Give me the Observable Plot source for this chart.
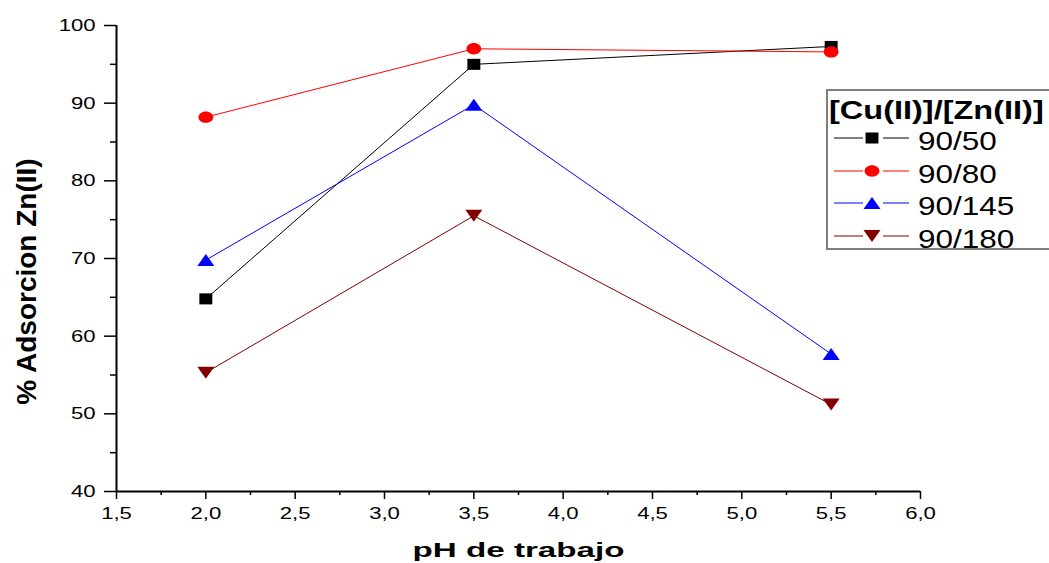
<!DOCTYPE html>
<html>
<head>
<meta charset="utf-8">
<script src="https://cdn.jsdelivr.net/npm/d3@7"></script>
<script src="https://cdn.jsdelivr.net/npm/@observablehq/plot@0.6"></script>
<style>
  html, body { margin: 0; padding: 0; background: #fff; overflow: hidden; }
  #wrap { position: relative; width: 1049px; height: 563px; font-family: "Liberation Sans", Arial, sans-serif; }
  #legend { position: absolute; left: 826px; top: 89px; overflow: visible; }
</style>
</head>
<body>
<div id="wrap"></div>
<script>
// ---- data ----
const pH = [2.0, 3.5, 5.5];
const series = ["90/50", "90/80", "90/145", "90/180"];
const s50  = [64.8, 95.0, 97.3];
const s80  = [88.2, 97.0, 96.6];
const s145 = [69.8, 89.8, 57.7];
const s180 = [55.3, 75.5, 51.2];
const seriesValues = [s50, s80, s145, s180];
const colors = ["#000000", "#ff0000", "#0000ff", "#800000"];
const xTicks = [1.5, 2.0, 2.5, 3.0, 3.5, 4.0, 4.5, 5.0, 5.5, 6.0];
const xMinor = [1.75, 2.25, 2.75, 3.25, 3.75, 4.25, 4.75, 5.25, 5.75];
const yTicks = [40, 50, 60, 70, 80, 90, 100];
const yMinor = [45, 55, 65, 75, 85, 95];
const xLabel = "pH de trabajo";
const yLabel = "% Adsorcion Zn(II)";
const legendTitle = "[Cu(II)]/[Zn(II)]";

// ---- symbols (horizontally stretched like the original) ----
const rOf = size => Math.sqrt(size / Math.PI);
const symSquare = { draw(ctx, size) { const r = rOf(size); const w = r * 1.08, h = r * 0.92; ctx.rect(-w, -h, 2 * w, 2 * h); } };
const symEllipse = { draw(ctx, size) { const r = rOf(size); const rx = r * 1.23, ry = r * 0.95, k = 0.5523;
  ctx.moveTo(rx, 0);
  ctx.bezierCurveTo(rx, ry * k, rx * k, ry, 0, ry);
  ctx.bezierCurveTo(-rx * k, ry, -rx, ry * k, -rx, 0);
  ctx.bezierCurveTo(-rx, -ry * k, -rx * k, -ry, 0, -ry);
  ctx.bezierCurveTo(rx * k, -ry, rx, -ry * k, rx, 0);
  ctx.closePath(); } };
const symTriUp = { draw(ctx, size) { const r = rOf(size); const w = r * 1.42, h = r * 1.0;
  ctx.moveTo(0, -h); ctx.lineTo(w, h); ctx.lineTo(-w, h); ctx.closePath(); } };
const symTriDown = { draw(ctx, size) { const r = rOf(size); const w = r * 1.42, h = r * 1.0;
  ctx.moveTo(0, h); ctx.lineTo(w, -h); ctx.lineTo(-w, -h); ctx.closePath(); } };
const symbols = [symSquare, symEllipse, symTriUp, symTriDown];

const table = series.flatMap((name, i) => pH.map((x, j) => ({ series: name, pH: x, value: seriesValues[i][j] })));

const marks = [];
series.forEach((name, i) => {
  marks.push(Plot.line(table.filter(d => d.series === name), { x: "pH", y: "value", stroke: colors[i], strokeWidth: 1 }));
});
series.forEach((name, i) => {
  marks.push(Plot.dot(table.filter(d => d.series === name), { x: "pH", y: "value", r: 6, symbol: symbols[i], fill: colors[i], stroke: "none" }));
});

const fmt = d => d.toFixed(1).replace(".", ",");

const chart = Plot.plot({
  width: 1049,
  height: 563,
  marginLeft: 116,
  marginRight: 129,
  marginTop: 25,
  marginBottom: 72,
  style: { fontFamily: "Liberation Sans, Arial, sans-serif", background: "#fff", color: "#000" },
  x: { domain: [1.5, 6.0], axis: null },
  y: { domain: [40, 100], axis: null },
  marks: [
    Plot.axisX(xTicks, { tickSize: 8, tickPadding: 7, fontSize: 17, strokeWidth: 1.5, tickFormat: fmt, label: null }),
    Plot.axisX(xMinor, { tickSize: 4, fontSize: 1, strokeWidth: 1.5, tickFormat: () => "", label: null }),
    Plot.axisY(yTicks, { tickSize: 12, tickPadding: 9, fontSize: 17, strokeWidth: 1.5, tickFormat: d => String(d), label: null }),
    Plot.axisY(yMinor, { tickSize: 6, fontSize: 1, strokeWidth: 1.5, tickFormat: () => "", label: null }),
    Plot.ruleX([1.5], { stroke: "#000", strokeWidth: 2 }),
    Plot.ruleY([40], { stroke: "#000", strokeWidth: 2 }),
    ...marks,
    Plot.text([xLabel], { frameAnchor: "bottom", textAnchor: "middle", lineAnchor: "middle", dy: 59, fontSize: 21, fontWeight: "bold", fill: "#000" }),
    Plot.text([yLabel], { frameAnchor: "left", textAnchor: "middle", lineAnchor: "middle", dx: -89, dy: 23, rotate: -90, fontSize: 28, fontWeight: "bold", fill: "#000" })
  ]
});

const wrap = document.getElementById("wrap");
wrap.appendChild(chart);

function stretch(t, f) {
  const L = t.getComputedTextLength();
  if (L > 0) { t.setAttribute("textLength", (L * f).toFixed(2)); t.setAttribute("lengthAdjust", "spacingAndGlyphs"); }
}
chart.querySelectorAll('g[aria-label$="tick label"] text').forEach(t => stretch(t, 1.3));
chart.querySelectorAll("text").forEach(t => { if (t.textContent === xLabel) stretch(t, 1.58); });

// ---- legend ----
const NS = "http://www.w3.org/2000/svg";
const leg = document.createElementNS(NS, "svg");
leg.setAttribute("id", "legend");
leg.setAttribute("width", 223);
leg.setAttribute("height", 162);
leg.style.fontFamily = "Liberation Sans, Arial, sans-serif";
wrap.appendChild(leg);
const box = document.createElementNS(NS, "path");
box.setAttribute("d", "M223,1H1V160H223");
box.setAttribute("fill", "#fff"); box.setAttribute("stroke", "#7f7f7f"); box.setAttribute("stroke-width", 2);
leg.appendChild(box);
const title = document.createElementNS(NS, "text");
title.setAttribute("x", 3); title.setAttribute("y", 30);
title.setAttribute("font-size", 25); title.setAttribute("font-weight", "bold");
title.textContent = legendTitle;
leg.appendChild(title);
stretch(title, 1.3);
const rowY = [49, 82, 114, 147];
series.forEach((name, i) => {
  const cy = rowY[i];
  [[8, 37], [57, 83]].forEach(([a, b]) => {
    const l = document.createElementNS(NS, "line");
    l.setAttribute("x1", a); l.setAttribute("x2", b); l.setAttribute("y1", cy); l.setAttribute("y2", cy);
    l.setAttribute("stroke", colors[i]); l.setAttribute("stroke-width", 1);
    leg.appendChild(l);
  });
  const p = d3.path();
  symbols[i].draw(p, Math.PI * 36);
  const m = document.createElementNS(NS, "path");
  m.setAttribute("d", p.toString());
  m.setAttribute("transform", `translate(46,${cy})`);
  m.setAttribute("fill", colors[i]);
  leg.appendChild(m);
  const t = document.createElementNS(NS, "text");
  t.setAttribute("x", 92); t.setAttribute("y", cy + 12);
  t.setAttribute("font-size", 25);
  t.textContent = name;
  leg.appendChild(t);
  stretch(t, 1.26);
});
</script>
</body>
</html>
